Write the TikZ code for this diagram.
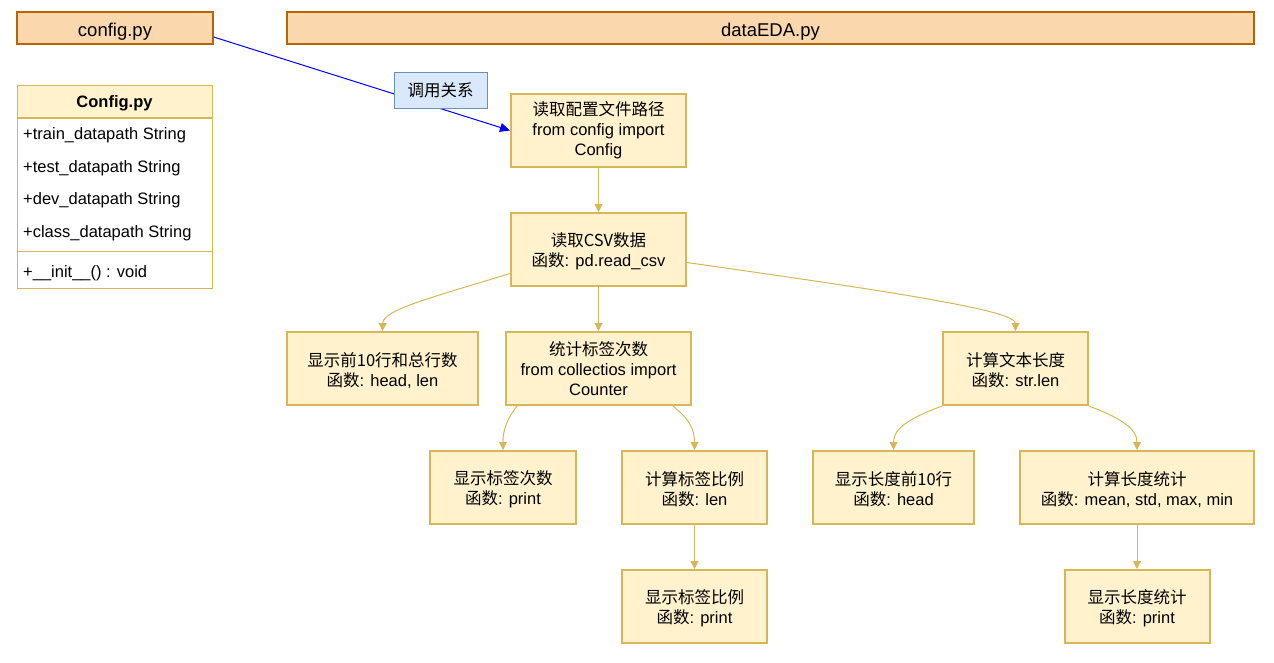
\documentclass[tikz,border=0pt]{standalone}
\usepackage{fontspec}
\setmainfont{Liberation Sans}
\newfontfamily\cjk{Noto Sans CJK SC}
\usetikzlibrary{arrows.meta,calc}
\definecolor{ybord}{HTML}{D6B656}
\definecolor{yfill}{HTML}{FFF2CC}
\definecolor{obord}{HTML}{B46504}
\definecolor{ofill}{HTML}{FAD7AC}
\definecolor{bbord}{HTML}{6C8EBF}
\definecolor{bfill}{HTML}{DAE8FC}
\newcommand{\dn}[1]{\rule{0pt}{#1pt}}
\tikzset{
  txt/.style={font=\fontsize{16.5}{20}\selectfont},
  ybox/.style={draw=ybord, fill=yfill, line width=2pt, align=center, inner sep=0pt, txt},
  obox/.style={draw=obord, fill=ofill, line width=1.3pt, align=center, inner sep=0pt, font=\fontsize{18.5}{22}\selectfont},
  lbox/.style={draw=bbord, fill=bfill, line width=1pt, inner sep=0pt, txt},
  yedge/.style={draw=ybord, line width=1pt, -{Triangle[length=8pt,width=8pt]}},
  bedge/.style={draw=blue, line width=1pt, -{Triangle[length=10pt,width=9pt]}},
  row/.style={anchor=west, inner sep=0pt, txt},
}
\begin{document}
\begin{tikzpicture}[x=1pt,y=-1pt]
\useasboundingbox (0,0) rectangle (1274,662);
% top files
\node[obox, minimum width=196, minimum height=32] (cfg) at (115,28) {\dn{20}config.py};
\node[obox, minimum width=967, minimum height=32] (eda) at (770.5,28) {\dn{20}dataEDA.py};
% class box
\node[draw=ybord, fill=yfill, line width=1pt, minimum width=195, minimum height=32, inner sep=0pt, font=\fontsize{16.5}{20}\selectfont\bfseries] (cls) at (114.5,101) {\dn{17}Config.py};
\node[draw=ybord, fill=white, line width=1pt, minimum width=195, minimum height=170, inner sep=0pt, anchor=north] (clsbody) at (cls.south) {};
\draw[ybord, line width=1pt] (clsbody.west |- 0,251) -- (clsbody.east |- 0,251);
\node[row] (r1) at (23,135.5) {+train\_datapath String};
\node[row] (r2) at (23,168.5) {+test\_datapath String};
\node[row] (r3) at (23,200.5) {+dev\_datapath String};
\node[row] (r4) at (23,233.5) {+class\_datapath String};
\node[row] (r5) at (23,273.5) {+\_\_init\_\_() : void};
% main flow
\node[ybox, minimum width=175, minimum height=73] (rd) at (598.5,130.5) {{\cjk 读取配置文件路径}\\from config import\\Config};
\node[ybox, minimum width=175, minimum height=73] (csv) at (598.5,249.5) {\dn{18}{\cjk 读取CSV数据}\\{\cjk 函数}: pd.read\_csv};
\node[ybox, minimum width=191, minimum height=73] (head) at (382.5,368.5) {\dn{18}{\cjk 显示前10行和总行数}\\{\cjk 函数}: head, len};
\node[ybox, minimum width=185, minimum height=73] (cnt) at (598.5,368.5) {{\cjk 统计标签次数}\\from collectios import\\Counter};
\node[ybox, minimum width=145, minimum height=73] (tlen) at (1015.5,368.5) {\dn{18}{\cjk 计算文本长度}\\{\cjk 函数}: str.len};
\node[ybox, minimum width=146, minimum height=73] (scnt) at (503,487.5) {\dn{18}{\cjk 显示标签次数}\\{\cjk 函数}: print};
\node[ybox, minimum width=145, minimum height=73] (ratio) at (694.5,487.5) {\dn{18}{\cjk 计算标签比例}\\{\cjk 函数}: len};
\node[ybox, minimum width=161, minimum height=73] (lhead) at (893.5,487.5) {\dn{18}{\cjk 显示长度前10行}\\{\cjk 函数}: head};
\node[ybox, minimum width=234, minimum height=73] (lstat) at (1137,487.5) {\dn{18}{\cjk 计算长度统计}\\{\cjk 函数}: mean, std, max, min};
\node[ybox, minimum width=145, minimum height=73] (sratio) at (694.5,606.5) {\dn{18}{\cjk 显示标签比例}\\{\cjk 函数}: print};
\node[ybox, minimum width=145, minimum height=73] (sstat) at (1137,606.5) {\dn{18}{\cjk 显示长度统计}\\{\cjk 函数}: print};
% blue call relation
\draw[bedge] ($(cfg.east)+(0,9)$) -- (rd.west);
\node[lbox, minimum width=93, minimum height=36] (call) at (440.5,90) {\cjk 调用关系};
% yellow edges
\draw[yedge] (rd.south) -- (csv.north);
\draw[yedge] (csv.south) -- (cnt.north);
\draw[yedge] ($(csv.west)+(0,24)$) .. controls (430,298) and (383,310) .. (head.north);
\draw[yedge] ($(csv.east)+(0,13)$) .. controls (880,290) and (1015.5,310) .. (tlen.north);
\draw[yedge] ($(cnt.south west)+(12,0)$) .. controls (508,418) and (503,428) .. (scnt.north);
\draw[yedge] ($(cnt.south east)+(-19,0)$) .. controls (688,418) and (694.5,428) .. (ratio.north);
\draw[yedge] (tlen.south west) .. controls (910,418) and (893.5,428) .. (lhead.north);
\draw[yedge] (tlen.south east) .. controls (1120,418) and (1137,428) .. (lstat.north);
\draw[yedge] (ratio.south) -- (sratio.north);
\draw[yedge] (lstat.south) -- (sstat.north);
\end{tikzpicture}
\end{document}
